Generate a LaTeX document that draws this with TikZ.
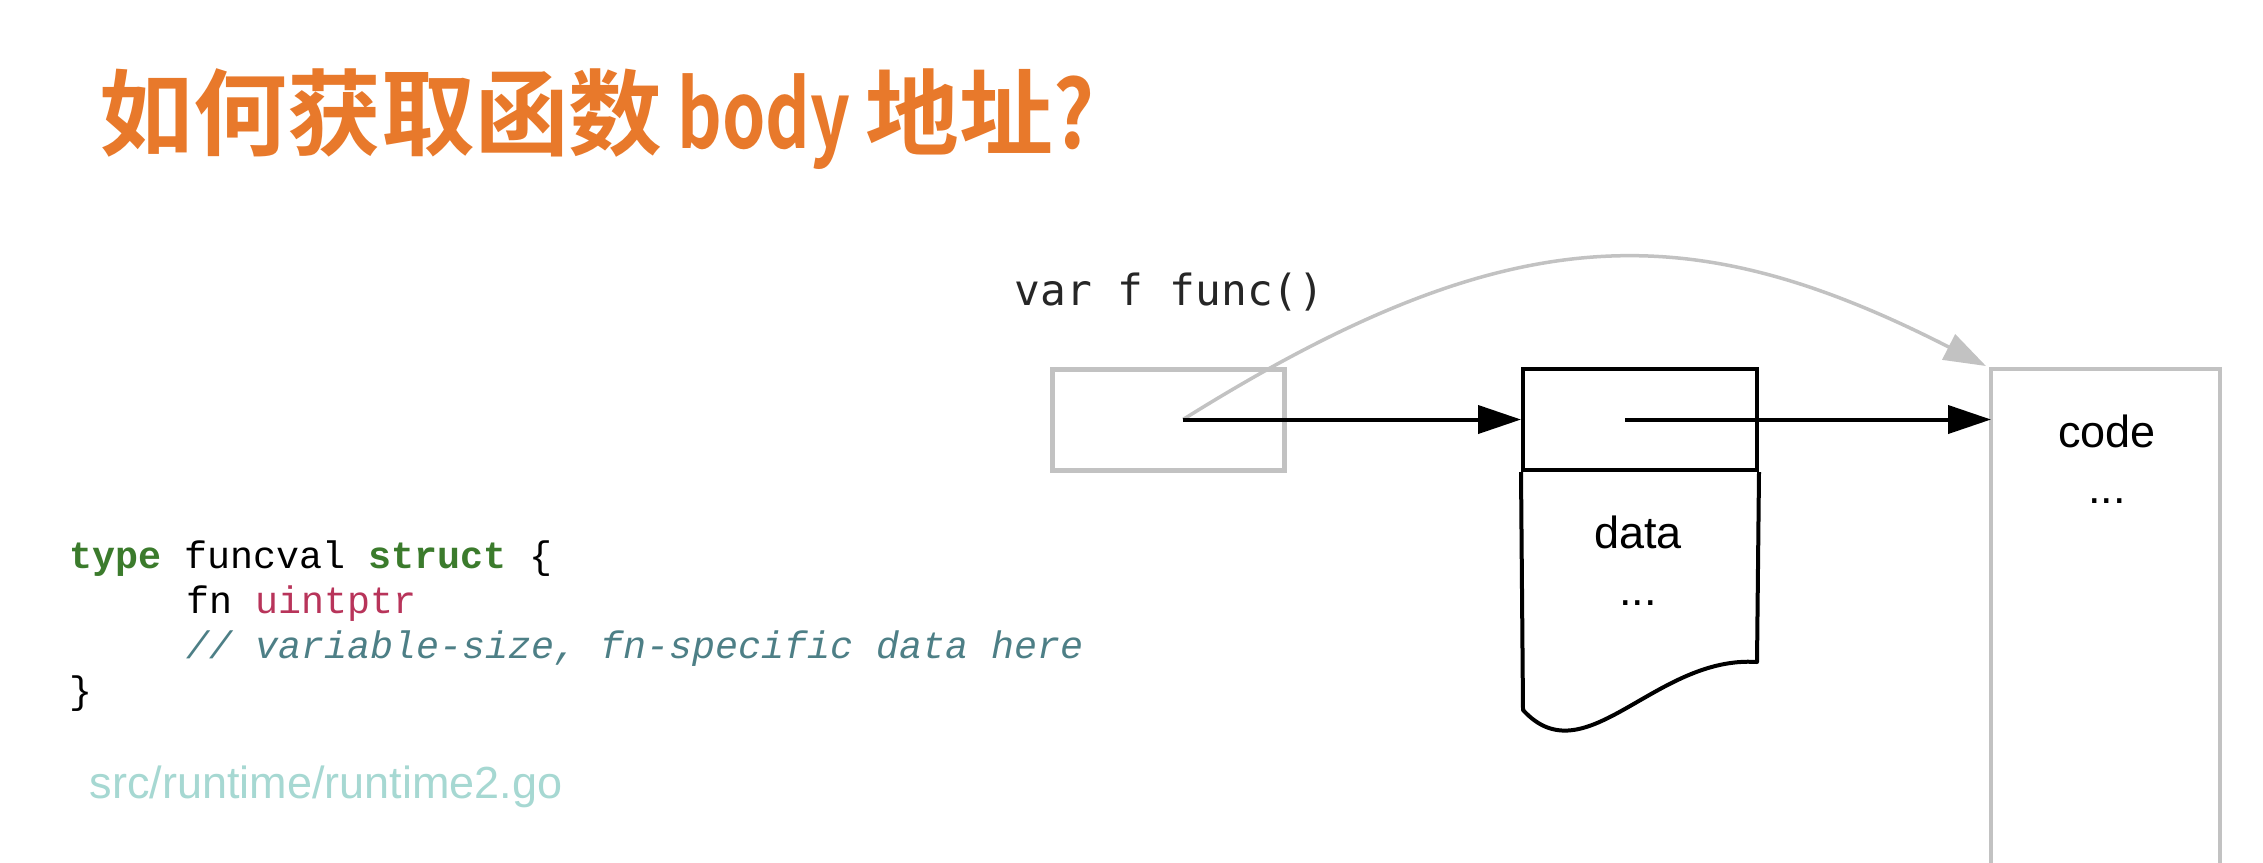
\documentclass[tikz,border=0pt]{standalone}
\usepackage{fontspec}
\setmainfont{Liberation Sans}
\newfontfamily\cjk{Noto Sans CJK SC}[BoldFont={Noto Sans CJK SC Bold}]
\newfontfamily\codefont{Liberation Mono}
\newfontfamily\djmono{DejaVu Sans Mono}
\usetikzlibrary{arrows.meta}
\definecolor{titleor}{HTML}{E8792B}
\definecolor{kwgreen}{HTML}{3B7B2C}
\definecolor{typered}{HTML}{B8345A}
\definecolor{cmt}{HTML}{4D7F86}
\definecolor{srcc}{HTML}{A6D8D2}
\definecolor{lgray}{HTML}{C2C2C2}
\tikzset{
  txt/.style={inner sep=0pt, anchor=base west},
  ctxt/.style={inner sep=0pt, anchor=base, font=\fontsize{12.8}{15}\selectfont},
  code/.style={txt, font=\codefont\fontsize{10.9}{13}\selectfont},
  blk/.style={line width=0.04cm, -{Triangle[length=0.43cm,width=0.28cm]}},
  grayarr/.style={lgray, line width=0.035cm, -{Triangle[length=0.42cm,width=0.28cm]}},
  gbox/.style={draw=lgray, line width=0.05cm, inner sep=0pt, minimum width=2.32cm, minimum height=1.01cm},
  bbox/.style={draw=black, line width=0.04cm, inner sep=0pt, minimum width=2.34cm, minimum height=1.01cm}
}
\begin{document}
\begin{tikzpicture}
\useasboundingbox (0,0) rectangle (22.63,-8.62);
\fill[white] (0,0) rectangle (22.63,-8.62);

% title
\node[txt, text=titleor, font=\cjk\bfseries\fontsize{26.7}{30}\selectfont] (title) at (0.99,-1.48)
  {如何获取函数\hspace{0.15cm}{\addfontfeature{FakeStretch=0.74}body}\hspace{0.15cm}地址{\addfontfeature{FakeStretch=0.85}?}};

% code
\node[code] (l1) at (0.69,-5.68) {\textcolor{kwgreen}{\bfseries type} funcval \textcolor{kwgreen}{\bfseries struct} \{};
\node[code] (l2) at (1.86,-6.13) {fn \textcolor{typered}{uintptr}};
\node[code, text=cmt] (l3) at (1.86,-6.58) {\itshape // variable-size, fn-specific data here};
\node[code] (l4) at (0.69,-7.03) {\}};
\node[txt, text=srcc, font=\fontsize{12.8}{15}\selectfont] (src) at (0.89,-7.98) {src/runtime/runtime2.go};

% variable
\node[txt, text=black!85, font=\djmono\fontsize{12.2}{14}\selectfont] (var) at (10.14,-3.05) {var f func()};
\node[gbox] (fvar) at (11.68,-4.195) {};
\coordinate (fstart) at (11.83,-4.195);

% funcval
\node[bbox] (fnslot) at (16.40,-4.195) {};
\draw[line width=0.04cm, line join=round] (fnslot.south west) -- (15.23,-7.10)
  .. controls (15.85,-7.78) and (16.55,-6.55) .. (17.57,-6.62) -- (fnslot.south east);
\node[ctxt] (data) at (16.38,-5.48) {data};
\node[ctxt] (ddots) at (16.38,-6.05) {...};
\coordinate (fnptr) at (16.25,-4.195);

% code column
\coordinate (codeTL) at (19.91,-3.69);
\coordinate (codeTR) at (22.20,-3.69);
\draw[lgray, line width=0.04cm] (19.91,-8.70) -- (codeTL) -- (codeTR) -- (22.20,-8.70);
\coordinate (codein) at (19.91,-4.195);
\node[ctxt] (codet) at (21.07,-4.47) {code};
\node[ctxt] (cdots) at (21.07,-5.03) {...};

% connectors
\draw[grayarr] (fstart) .. controls (15.1,-2.15) and (16.9,-2.15) .. (19.86,-3.66);
\draw[blk] (fstart) -- (fnslot.west);
\draw[blk] (fnptr) -- (codein);
\end{tikzpicture}
\end{document}
